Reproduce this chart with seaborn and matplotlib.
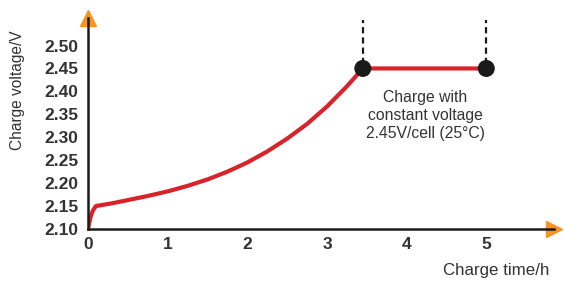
import matplotlib
matplotlib.use("Agg")
import matplotlib.pyplot as plt
import seaborn as sns
import pandas as pd

# curve
time_h = [0, 0.03, 0.06, 0.1, 0.3, 0.5, 0.75, 1.0, 1.25, 1.5, 1.75, 2.0, 2.25, 2.5, 2.75,
          3.0, 3.25, 3.45, 4.2, 5.0]
volt = [2.10, 2.125, 2.14, 2.150, 2.156, 2.163, 2.172, 2.182, 2.194, 2.208, 2.225, 2.245,
        2.269, 2.297, 2.329, 2.367, 2.411, 2.45, 2.45, 2.45]
dot_time = [3.45, 5.0]
dot_volt = [2.45, 2.45]
xticks = [0, 1, 2, 3, 4, 5]
yticks = [2.10, 2.15, 2.20, 2.25, 2.30, 2.35, 2.40, 2.45, 2.50]
note = "Charge with\nconstant voltage\n2.45V/cell (25°C)"

sns.set_style("white")
plt.rcParams["font.family"] = ["Liberation Sans", "DejaVu Sans"]

df = pd.DataFrame({"t": time_h, "v": volt})
dots = pd.DataFrame({"t": dot_time, "v": dot_volt})

fig = plt.figure(figsize=(5.64, 2.84), dpi=100)
ax = fig.add_axes([88 / 564, 55 / 284, 466 / 564, 211 / 284])

red = "#d9232a"
sns.lineplot(data=df, x="t", y="v", color=red, linewidth=3, ax=ax, solid_capstyle="round")
sns.scatterplot(data=dots, x="t", y="v", color="#1a1a1a", s=150, ax=ax, zorder=5, edgecolor="none")

# dashed markers above the constant-voltage section
for t in dot_time:
    ax.plot([t, t], [2.46, 2.556], color="#1a1a1a", linestyle=(0, (2.8, 1.8)), linewidth=1.6,
            clip_on=False)

ax.text(4.23, 2.402, note, ha="center", va="top", fontsize=11.3, color="#333333", linespacing=1.25)

ax.set_xlim(0, 5.85)
ax.set_ylim(2.10, 2.56)
ax.set_xticks(xticks)
ax.set_yticks(yticks)
ax.set_xticklabels([str(x) for x in xticks], fontsize=12.5, fontweight="bold", color="#333333")
ax.set_yticklabels([f"{y:.2f}" for y in yticks], fontsize=12.5, fontweight="bold", color="#333333")
ax.tick_params(direction="in", length=6, width=1.8, color="#1a1a1a")
ax.tick_params(axis="y", pad=7)
ax.tick_params(axis="x", pad=6)
ax.set_xlabel("")
ax.set_ylabel("")

sns.despine(ax=ax)
for s in ["left", "bottom"]:
    ax.spines[s].set_linewidth(1.8)
    ax.spines[s].set_color("#1a1a1a")

# orange arrow heads at axis ends
orange = "#f7941d"
ax.plot(1.0, 0, marker=">", color=orange, markersize=11, transform=ax.transAxes, clip_on=False)
ax.plot(0, 1.0, marker="^", color=orange, markersize=11, transform=ax.transAxes, clip_on=False)

fig.text(18 / 564, 1 - 90 / 284, "Charge voltage/V", rotation=90, ha="center", va="center",
         fontsize=11.2, color="#333333")
fig.text(496 / 564, 1 - 271 / 284, "Charge time/h", ha="center", va="center",
         fontsize=12.2, color="#333333")

fig.savefig("out.png", dpi=100)
